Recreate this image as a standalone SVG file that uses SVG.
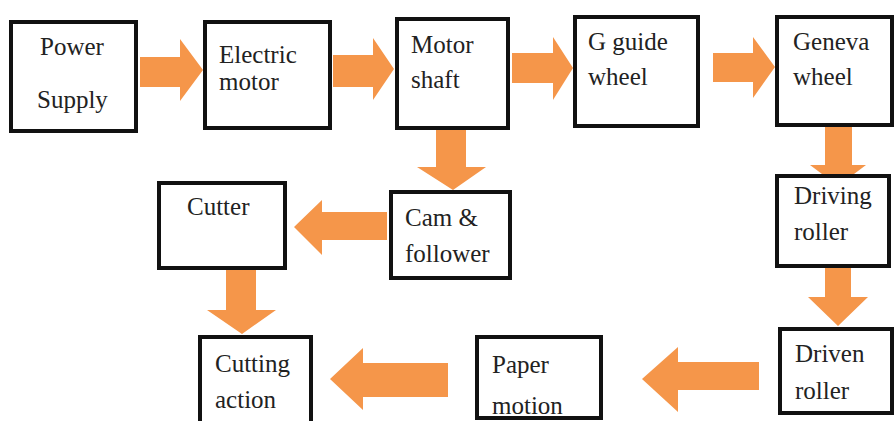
<svg xmlns="http://www.w3.org/2000/svg" width="896" height="421" viewBox="0 0 896 421">
<style>
.box{fill:#fff;stroke:#111;stroke-width:4}
.ar{fill:#F5964A}
</style>
<rect width="896" height="421" fill="#fff"/>
<g id="connectors">
<polygon class="ar" points="140,57 180,57 180,39 203,70 180,101 180,87 140,87"/>
<polygon class="ar" points="333,55 373,55 373,38 394,69 373,100 373,87 333,87"/>
<polygon class="ar" points="512,53 553,53 553,37 573,68 553,100 553,83 512,83"/>
<polygon class="ar" points="713,53 753,53 753,37 775,67 753,98 753,82 713,82"/>
<polygon class="ar" points="825,127 852,127 852,165 866,165 838,186 810,165 825,165"/>
<polygon class="ar" points="825,268 851,268 851,297 868,297 838,326 808,297 825,297"/>
<polygon class="ar" points="759,362 678,362 678,347 642,379 678,412 678,390 759,390"/>
<polygon class="ar" points="448,363 363,363 363,348 330,379 363,410 363,397 448,397"/>
<polygon class="ar" points="436,130 466,130 466,167 486,167 453,190 417,167 436,167"/>
<polygon class="ar" points="387,212 322,212 322,200 294,227 322,255 322,240 387,240"/>
<polygon class="ar" points="226,270 256,270 256,310 276,310 242,334 207,310 226,310"/>
</g>
<g font-family="Liberation Serif, DejaVu Serif, serif" font-size="25" fill="#222">
<g id="power-supply"><rect class="box" x="11" y="22" width="125" height="109"/><text x="40" y="55">Power</text><text x="37" y="108">Supply</text></g>
<g id="electric-motor"><rect class="box" x="205" y="22" width="125" height="106"/><text x="219" y="63">Electric</text><text x="219" y="90">motor</text></g>
<g id="motor-shaft"><rect class="box" x="397" y="19" width="111" height="109"/><text x="411" y="53">Motor</text><text x="411" y="88">shaft</text></g>
<g id="g-guide-wheel"><rect class="box" x="575" y="17" width="123" height="109"/><text x="588" y="50">G guide</text><text x="588" y="85">wheel</text></g>
<g id="geneva-wheel"><rect class="box" x="777" y="17" width="115" height="108"/><text x="793" y="50">Geneva</text><text x="793" y="85">wheel</text></g>
<g id="driving-roller"><rect class="box" x="777" y="176" width="112" height="90"/><text x="794" y="204">Driving</text><text x="794" y="240">roller</text></g>
<g id="driven-roller"><rect class="box" x="780" y="329" width="112" height="84"/><text x="795" y="362">Driven</text><text x="795" y="399">roller</text></g>
<g id="paper-motion"><rect class="box" x="477" y="337" width="124" height="81"/><text x="492" y="373">Paper</text><text x="492" y="414">motion</text></g>
<g id="cutting-action"><rect class="box" x="200" y="337" width="111" height="90"/><text x="215" y="372">Cutting</text><text x="215" y="408">action</text></g>
<g id="cutter"><rect class="box" x="159" y="183" width="126" height="85"/><text x="187" y="215">Cutter</text></g>
<g id="cam-follower"><rect class="box" x="391" y="192" width="119" height="86"/><text x="405" y="226">Cam &amp;</text><text x="405" y="262">follower</text></g>
</g>
</svg>
